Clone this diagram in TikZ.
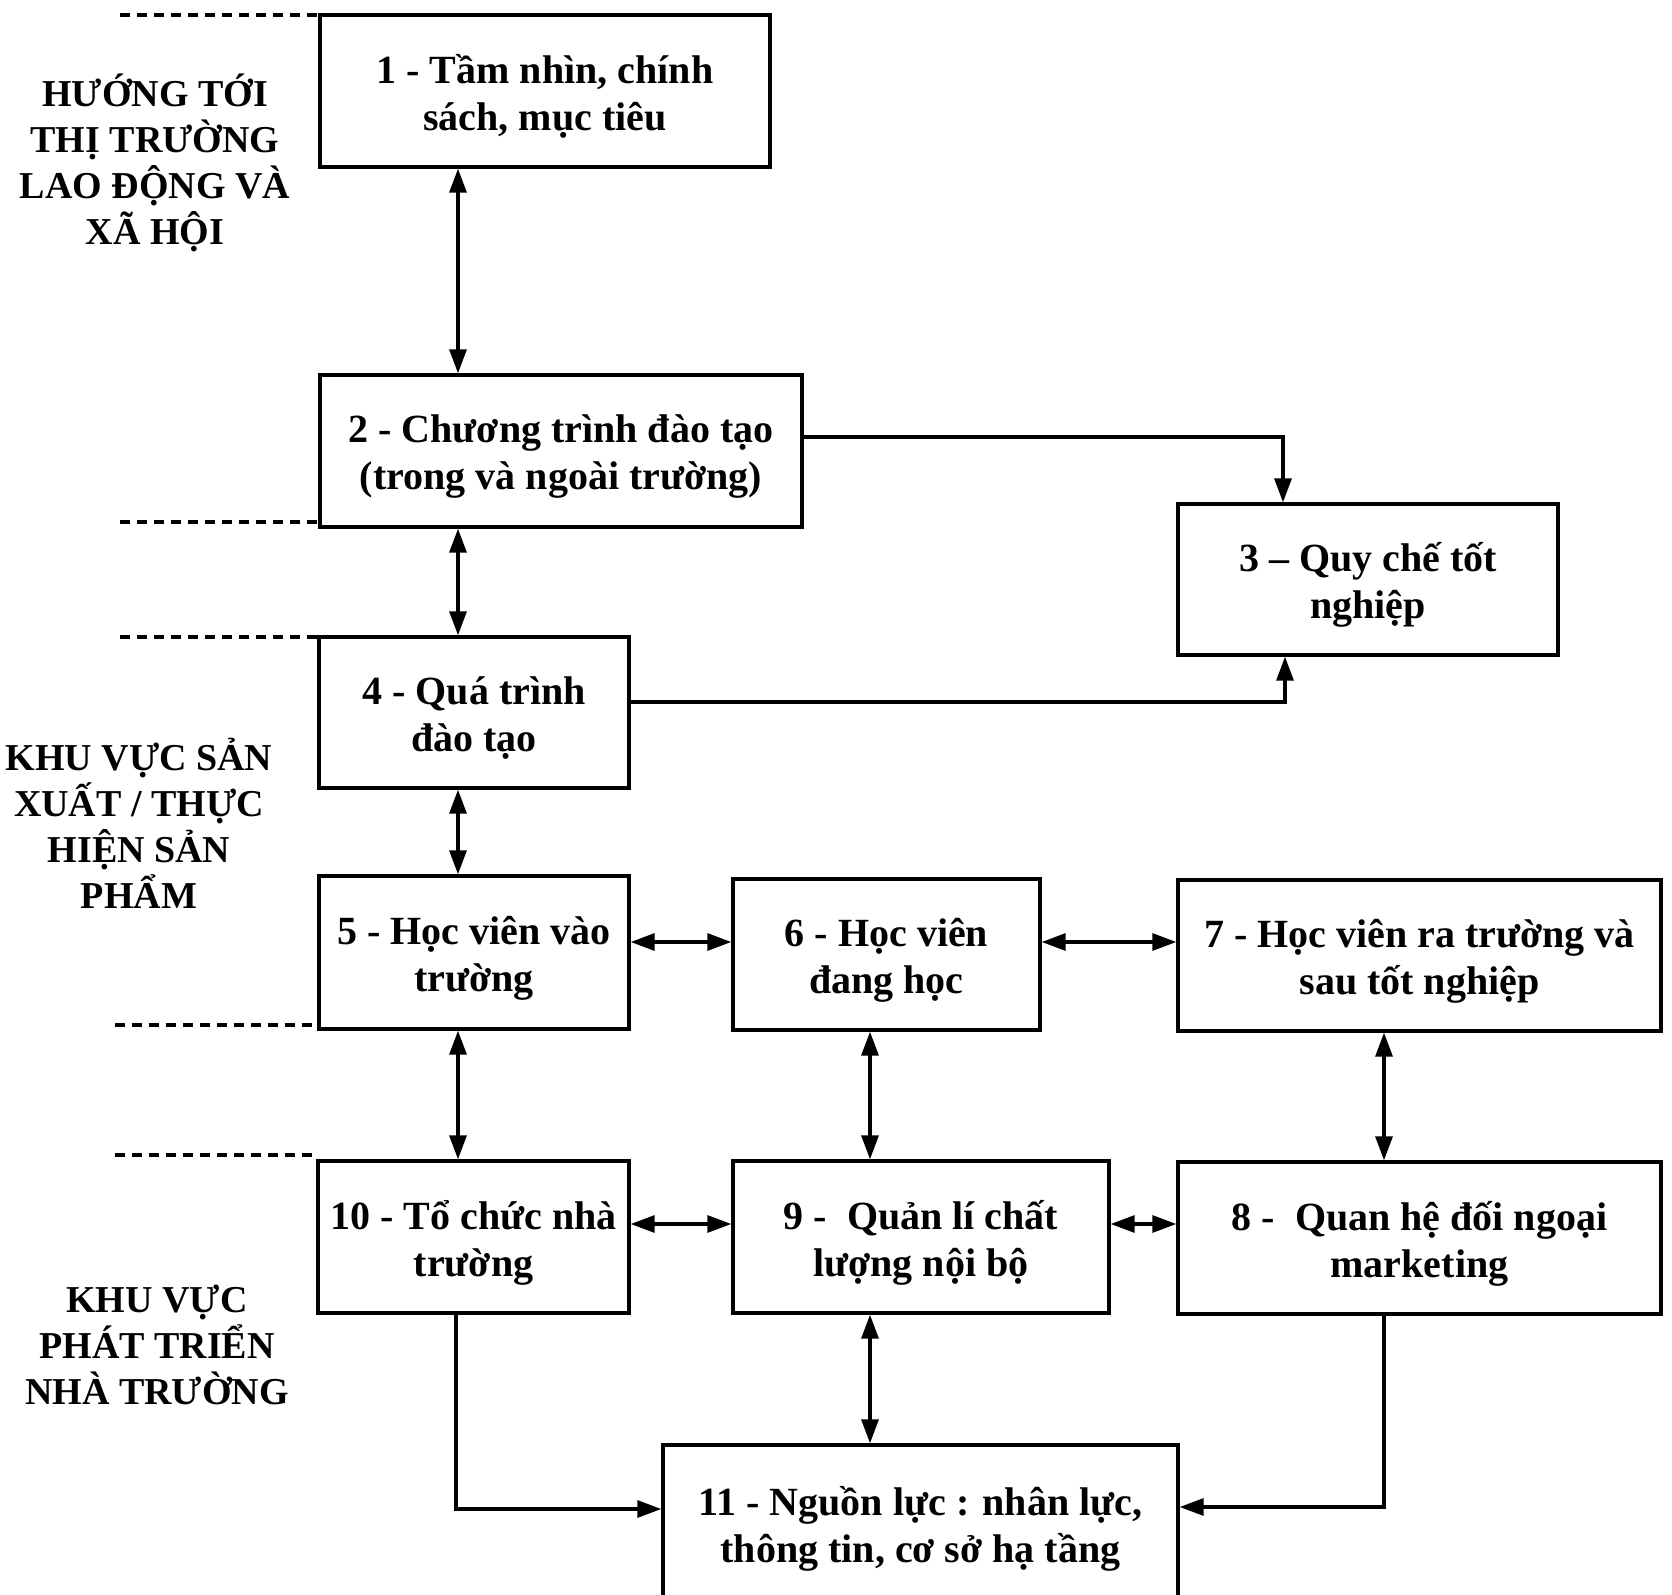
\documentclass[tikz,border=0pt]{standalone}
\usepackage{fontspec}
\setmainfont{Liberation Serif}
\usetikzlibrary{arrows.meta}
\begin{document}
\begin{tikzpicture}[x=0.5pt,y=-0.5pt,
  box/.style={draw,line width=1.7pt,inner sep=0pt},
  txt/.style={align=center,inner sep=0pt,
    font=\bfseries\fontsize{20}{23.5}\selectfont},
  zone/.style={align=center,font=\bfseries\fontsize{19}{23}\selectfont},
  tip/.style={},
  arr/.style={line width=1.6pt,-{Triangle[length=12pt,width=8.5pt]}},
  darr/.style={line width=1.6pt,{Triangle[length=12pt,width=8.5pt]}-{Triangle[length=12pt,width=8.5pt]}},
  sep/.style={line width=1.6pt,dash pattern=on 5pt off 3.5pt}]
\clip (0,0) rectangle (1672,1595);
\fill[white] (0,0) rectangle (1672,1595);

% frames (centres and sizes on the layout grid)
\node[box,minimum width=225pt,minimum height=76pt] (b1) at (545,91) {};
\node[box,minimum width=241pt,minimum height=76pt] (b2) at (561,451) {};
\node[box,minimum width=190pt,minimum height=75.5pt] (b3) at (1368,579.5) {};
\node[box,minimum width=155pt,minimum height=75.5pt] (b4) at (474,712.5) {};
\node[box,minimum width=155pt,minimum height=76.5pt] (b5) at (474,952.5) {};
\node[box,minimum width=153.5pt,minimum height=75.5pt] (b6) at (886.5,954.5) {};
\node[box,minimum width=241.5pt,minimum height=75.5pt] (b7) at (1419.5,955.5) {};
\node[box,minimum width=155.5pt,minimum height=76pt] (b10) at (473.5,1237) {};
\node[box,minimum width=188pt,minimum height=76pt] (b9) at (921,1237) {};
\node[box,minimum width=241.5pt,minimum height=76pt] (b8) at (1419.5,1238) {};
\node[box,minimum width=257.5pt,minimum height=90pt] (b11) at (920.5,1535) {};

% box texts
\node[txt] (t1) at ([yshift=-2.8pt]b1.center) {1 - Tầm nhìn, chính\\sách, mục tiêu};
\node[txt] (t2) at ([yshift=-2.8pt]b2.center) {2 - Chương trình đào tạo\\(trong và ngoài trường)};
\node[txt] (t3) at ([yshift=-2.8pt]b3.center) {3 – Quy chế tốt\\nghiệp};
\node[txt] (t4) at ([yshift=-2.8pt]b4.center) {4 - Quá trình\\đào tạo};
\node[txt] (t5) at ([yshift=-2.8pt]b5.center) {5 - Học viên vào\\trường};
\node[txt] (t6) at ([yshift=-2.8pt]b6.center) {6 - Học viên\\đang học};
\node[txt] (t7) at ([yshift=-2.8pt]b7.center) {7 - Học viên ra trường và\\sau tốt nghiệp};
\node[txt] (t10) at ([yshift=-2.8pt]b10.center) {10 - Tổ chức nhà\\trường};
\node[txt] (t9) at ([yshift=-2.8pt]b9.center) {9 -\ \ Quản lí chất\\lượng nội bộ};
\node[txt] (t8) at ([yshift=-2.8pt]b8.center) {8 -\ \ Quan hệ đối ngoại\\marketing};
\node[txt] (t11) at ([yshift=3.2pt]b11.center) {11 - Nguồn lực : nhân lực,\\thông tin, cơ sở hạ tầng};

% zone labels on the left
\node[zone] (z1) at (155,163) {HƯỚNG TỚI\\THỊ TRƯỜNG\\LAO ĐỘNG VÀ\\XÃ HỘI};
\node[zone] (z2) at (139,823) {KHU VỰC SẢN\\XUẤT / THỰC\\HIỆN SẢN\\PHẨM};
\node[zone] (z3) at (157,1345) {KHU VỰC\\PHÁT TRIỂN\\NHÀ TRƯỜNG};

% dashed zone separators
\coordinate (s0) at (120,15);
\coordinate (s1) at (120,522);
\coordinate (s2) at (120,637);
\coordinate (s3) at (115,1025);
\coordinate (s4) at (115,1155);
\draw[sep] (s0) -- (s0 -| b1.west);
\draw[sep] (s1) -- (s1 -| b2.west);
\draw[sep] (s2) -- (s2 -| b4.west);
\draw[sep] (s3) -- (s3 -| b5.west);
\draw[sep] (s4) -- (s4 -| b10.west);

% vertical links
\coordinate (vl) at (458,0);
\coordinate (vm) at (870,0);
\coordinate (vr) at (1384,0);
\draw[darr] (b1.south -| vl) -- (b2.north -| vl);
\draw[darr] (b2.south -| vl) -- (b4.north -| vl);
\draw[darr] (b4.south -| vl) -- (b5.north -| vl);
\draw[darr] (b5.south -| vl) -- (b10.north -| vl);
\draw[darr] (b6.south -| vm) -- (b9.north -| vm);
\draw[darr] (b9.south -| vm) -- (b11.north -| vm);
\draw[darr] (b7.south -| vr) -- (b8.north -| vr);

% horizontal links
\coordinate (h1) at (0,942);
\coordinate (h2) at (0,1224);
\draw[darr] (b5.east |- h1) -- (b6.west |- h1);
\draw[darr] (b6.east |- h1) -- (b7.west |- h1);
\draw[darr] (b10.east |- h2) -- (b9.west |- h2);
\draw[darr] (b9.east |- h2) -- (b8.west |- h2);

% elbow links
\coordinate (c23) at (1283,437);
\coordinate (c43) at (1285,702);
\coordinate (c1011) at (456,1509);
\coordinate (c811) at (1384,1507);
\draw[arr] (b2.east |- c23) -- (c23) -- (c23 |- b3.north);
\draw[arr] (b4.east |- c43) -- (c43) -- (c43 |- b3.south);
\draw[arr] (b10.south -| c1011) -- (c1011) -- (c1011 -| b11.west);
\draw[arr] (b8.south -| c811) -- (c811) -- (c811 -| b11.east);
\end{tikzpicture}
\end{document}
